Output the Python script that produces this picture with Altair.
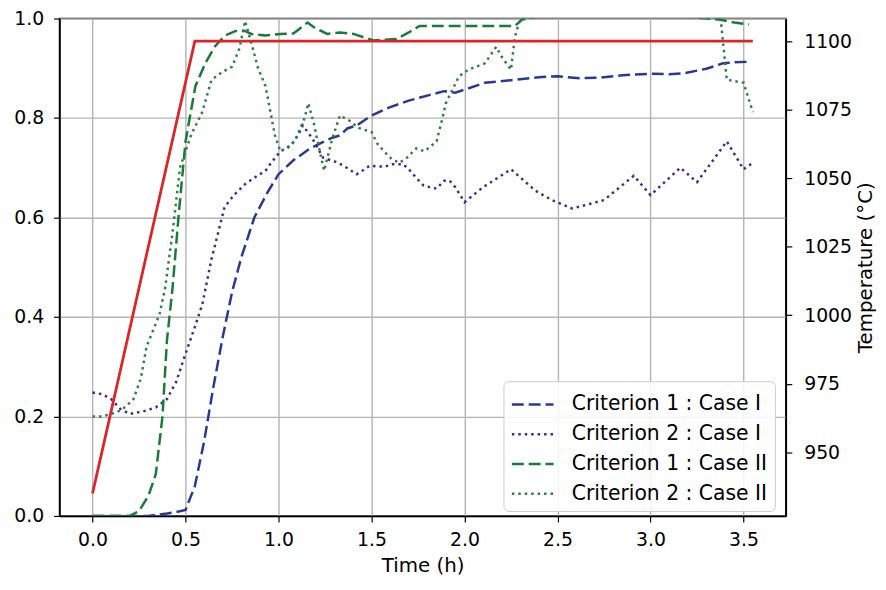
import altair as alt
import pandas as pd

# ---- data ----
series_names = ["Criterion 1 : Case I", "Criterion 2 : Case I",
                "Criterion 1 : Case II", "Criterion 2 : Case II"]
series_colors = ["#2a3990", "#3b2f8c", "#1a7a38", "#2f7d4e"]
series_dashes = [[12, 5], [2.5, 4], [12, 5], [2.5, 4]]

c1_case1_t = [0, 0.1, 0.2, 0.3, 0.4, 0.45, 0.5, 0.55, 0.6, 0.65, 0.7, 0.75, 0.8, 0.87, 0.94, 1.0,
              1.08, 1.17, 1.28, 1.33, 1.37, 1.42, 1.5, 1.6, 1.7, 1.81, 1.89, 1.95, 2.0, 2.11, 2.25,
              2.4, 2.5, 2.62, 2.73, 2.85, 3.0, 3.1, 3.18, 3.3, 3.39, 3.45, 3.53]
c1_case1_v = [0, 0, 0, 0, 0.005, 0.008, 0.012, 0.06, 0.15, 0.26, 0.36, 0.45, 0.52, 0.6, 0.65, 0.687,
              0.715, 0.739, 0.759, 0.765, 0.779, 0.785, 0.805, 0.822, 0.835, 0.846, 0.854, 0.851, 0.857,
              0.871, 0.876, 0.882, 0.884, 0.88, 0.881, 0.886, 0.889, 0.888, 0.89, 0.899, 0.91, 0.912, 0.913]

c2_case1_t = [0, 0.05, 0.1, 0.15, 0.2, 0.27, 0.34, 0.4, 0.45, 0.5, 0.55, 0.59, 0.64, 0.71, 0.76, 0.82,
              0.87, 0.93, 0.96, 1.01, 1.07, 1.11, 1.13, 1.18, 1.24, 1.3, 1.35, 1.42, 1.45, 1.49, 1.57,
              1.61, 1.67, 1.7, 1.74, 1.78, 1.85, 1.89, 1.92, 1.95, 2.0, 2.1, 2.25, 2.38, 2.47, 2.58,
              2.75, 2.91, 3.0, 3.16, 3.25, 3.41, 3.5, 3.55]
c2_case1_v = [0.248, 0.245, 0.235, 0.215, 0.205, 0.21, 0.218, 0.235, 0.27, 0.326, 0.38, 0.425, 0.517,
              0.621, 0.645, 0.667, 0.68, 0.694, 0.71, 0.733, 0.746, 0.769, 0.785, 0.76, 0.72, 0.713,
              0.704, 0.687, 0.694, 0.704, 0.702, 0.707, 0.707, 0.697, 0.68, 0.664, 0.658, 0.674, 0.674,
              0.661, 0.631, 0.661, 0.697, 0.654, 0.635, 0.618, 0.635, 0.684, 0.645, 0.70, 0.671, 0.753,
              0.697, 0.71]

c1_case2_t = [0, 0.1, 0.2, 0.25, 0.3, 0.34, 0.376, 0.40, 0.43, 0.464, 0.5, 0.553, 0.606, 0.66, 0.713,
              0.77, 0.819, 0.854, 0.93, 1.01, 1.08, 1.156, 1.2, 1.262, 1.33, 1.404, 1.46, 1.511, 1.634,
              1.7, 1.758, 1.89, 1.99, 2.1, 2.27, 2.31, 2.5, 3.0, 3.37, 3.45, 3.53]
c1_case2_v = [0, 0, 0, 0.01, 0.04, 0.084, 0.2, 0.353, 0.458, 0.609, 0.753, 0.864, 0.91, 0.945, 0.966,
              0.975, 0.975, 0.969, 0.966, 0.969, 0.97, 0.992, 0.98, 0.969, 0.972, 0.969, 0.962, 0.956,
              0.959, 0.972, 0.985, 0.985, 0.985, 0.985, 0.985, 0.998, 1.01, 1.01, 0.998, 0.992, 0.988]

c2_case2_t = [0, 0.05, 0.1, 0.15, 0.18, 0.22, 0.26, 0.29, 0.36, 0.39, 0.43, 0.47, 0.53, 0.59, 0.64,
              0.7, 0.75, 0.79, 0.82, 0.85, 0.89, 0.93, 0.98, 1.01, 1.05, 1.09, 1.14, 1.16, 1.19, 1.21,
              1.245, 1.29, 1.33, 1.38, 1.43, 1.5, 1.53, 1.56, 1.61, 1.65, 1.69, 1.74, 1.785, 1.85,
              1.88, 1.9, 1.97, 2.02, 2.11, 2.17, 2.2, 2.25, 2.27, 2.3, 2.5, 3.0, 3.35, 3.38, 3.41,
              3.5, 3.55]
c2_case2_v = [0.2, 0.2, 0.205, 0.212, 0.22, 0.235, 0.277, 0.34, 0.405, 0.458, 0.569, 0.70, 0.766,
              0.812, 0.877, 0.893, 0.903, 0.94, 0.995, 0.956, 0.90, 0.864, 0.766, 0.733, 0.74, 0.756,
              0.80, 0.83, 0.789, 0.753, 0.694, 0.76, 0.805, 0.795, 0.78, 0.772, 0.749, 0.736, 0.717,
              0.71, 0.72, 0.739, 0.733, 0.753, 0.798, 0.83, 0.884, 0.897, 0.91, 0.943, 0.923, 0.897,
              0.962, 1.0, 1.01, 1.01, 1.01, 0.988, 0.877, 0.871, 0.812]

temp_t = [0, 0.55, 3.55]
temp_v = [935, 1100, 1100]

x_ticks = [0, 0.5, 1.0, 1.5, 2.0, 2.5, 3.0, 3.5]
y_ticks = [0, 0.2, 0.4, 0.6, 0.8, 1.0]
t_ticks = [950, 975, 1000, 1025, 1050, 1075, 1100]

# ---- tables ----
rows = []
for name, ts, vs in zip(series_names,
                        [c1_case1_t, c2_case1_t, c1_case2_t, c2_case2_t],
                        [c1_case1_v, c2_case1_v, c1_case2_v, c2_case2_v]):
    for t, v in zip(ts, vs):
        rows.append({"t": t, "v": v, "series": name})
crit = pd.DataFrame(rows)
temp = pd.DataFrame({"t": temp_t, "T": temp_v})

FONT = "DejaVu Sans"
xscale = alt.Scale(domain=[-0.1775, 3.7275], nice=False, zero=False)

xenc = alt.X("t:Q", scale=xscale,
             axis=alt.Axis(title="Time (h)", values=x_ticks, format=".1f", grid=True,
                           labelPadding=9, titlePadding=6))

lines = alt.Chart(crit).mark_line(strokeWidth=2.5, clip=True).encode(
    x=xenc,
    y=alt.Y("v:Q", scale=alt.Scale(domain=[0, 1], nice=False),
            axis=alt.Axis(title=None, values=y_ticks, format=".1f", grid=True,
                          labelPadding=10)),
    color=alt.Color("series:N", title=None,
                    scale=alt.Scale(domain=series_names, range=series_colors),
                    sort=series_names),
    strokeDash=alt.StrokeDash("series:N", title=None,
                              scale=alt.Scale(domain=series_names, range=series_dashes),
                              sort=series_names),
    detail="series:N",
)

temp_line = alt.Chart(temp).mark_line(color="#d9262b", strokeWidth=2.8).encode(
    x=alt.X("t:Q", scale=xscale),
    y=alt.Y("T:Q", scale=alt.Scale(domain=[926.75, 1108.25], nice=False, zero=False),
            axis=alt.Axis(title="Temperature (°C)", orient="right", values=t_ticks,
                          format="d", grid=False, titleAngle=270, titlePadding=24,
                          labelPadding=12)),
)

chart = alt.layer(lines, temp_line).resolve_scale(y="independent").properties(
    width=733, height=502,
    autosize=alt.AutoSizeParams(type="none"),
    padding={"left": 52, "top": 8, "right": 93, "bottom": 60},
).configure_view(
    stroke="black", strokeWidth=1.5
).configure_axis(
    labelFont=FONT, labelFontSize=19, labelColor="black",
    titleFont=FONT, titleFontSize=20, titleFontWeight="normal", titleColor="black",
    tickColor="black", tickSize=6, tickWidth=1.2, domainColor="black", domainWidth=1.5,
    gridColor="#b4b4b4", gridWidth=1.4,
).configure_legend(
    orient="none", legendX=448, legendY=366,
    fillColor="rgba(255,255,255,0.85)", strokeColor="#cccccc", cornerRadius=5,
    padding=7, labelFont=FONT, labelFontSize=20.5, labelColor="black", labelLimit=400,
    symbolType="M-1.4,0H1.4", symbolSize=900, symbolStrokeWidth=2.5, symbolOffset=6,
    rowPadding=3, labelOffset=23,
)

chart.save("out.html", embed_options={"renderer": "svg", "actions": False})
